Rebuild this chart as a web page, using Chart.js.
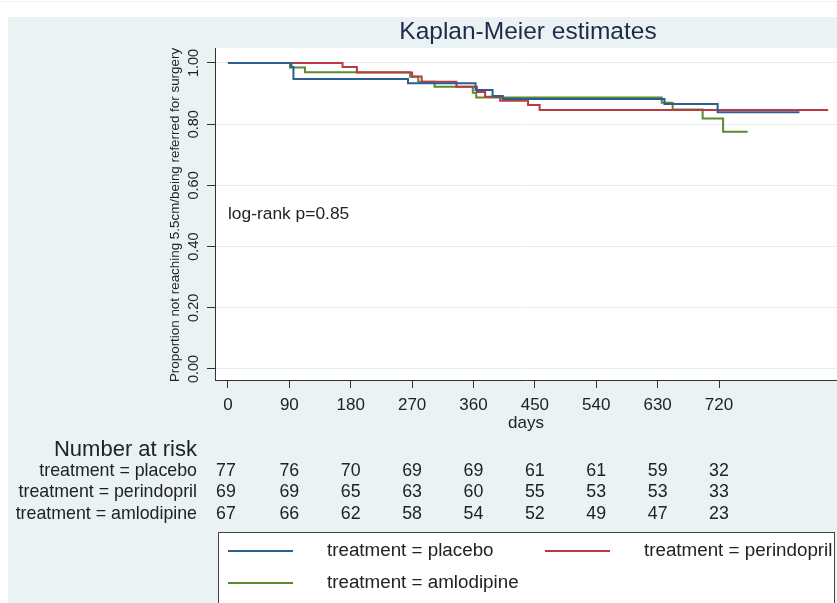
<!DOCTYPE html>
<html>
<head>
<meta charset="utf-8">
<script src="https://cdn.jsdelivr.net/npm/chart.js@4"></script>
<style>
  html, body { margin: 0; padding: 0; background: #fff; }
  canvas { display: block; }
</style>
</head>
<body>
<canvas id="km" width="837" height="603"></canvas>
<script>
// Kaplan-Meier step data (day, survival)
const placeboDays = [0, 93, 96, 264, 363, 388, 403, 640, 718, 838];
const placeboSurv = [1, 0.987, 0.948, 0.934, 0.912, 0.892, 0.882, 0.866, 0.839, 0.839];

const perindoprilDays = [0, 168, 189, 270, 284, 335, 365, 377, 399, 440, 457, 880];
const perindoprilSurv = [1, 0.987, 0.969, 0.956, 0.939, 0.922, 0.905, 0.890, 0.877, 0.863, 0.846, 0.846];

const amlodipineDays = [0, 91, 113, 267, 279, 303, 359, 364, 636, 652, 696, 726, 762];
const amlodipineSurv = [1, 0.985, 0.970, 0.955, 0.939, 0.922, 0.903, 0.887, 0.870, 0.848, 0.819, 0.775, 0.775];

const xTicks = [0, 90, 180, 270, 360, 450, 540, 630, 720];
const yTicks = [0, 0.2, 0.4, 0.6, 0.8, 1.0];

// number at risk, one value per x tick
const riskLabels = ['treatment = placebo', 'treatment = perindopril', 'treatment = amlodipine'];
const riskPlacebo = [77, 76, 70, 69, 69, 61, 61, 59, 32];
const riskPerindopril = [69, 69, 65, 63, 60, 55, 53, 53, 33];
const riskAmlodipine = [67, 66, 62, 58, 54, 52, 49, 47, 23];

const colors = ['#2b5e91', '#bb3a42', '#5b8b2f'];
const FONT = '"Liberation Sans", Arial, sans-serif';

function toPoints(days, surv) {
    return days.map((d, i) => ({ x: d, y: surv[i] }));
}

const decor = {
    id: 'decor',
    beforeDraw(chart) {
        const ctx = chart.ctx;
        const a = chart.chartArea;
        ctx.save();
        ctx.fillStyle = '#fff';
        ctx.fillRect(0, 0, chart.width, chart.height);
        ctx.fillStyle = '#f3f1e6';
        ctx.fillRect(0, 1, chart.width, 1);
        ctx.fillStyle = '#eaf2f3';
        ctx.fillRect(8, 17, chart.width - 8, chart.height - 17);
        ctx.fillStyle = '#fff';
        ctx.fillRect(a.left, a.top, a.right - a.left, a.bottom - a.top);
        ctx.restore();
    },
    afterDraw(chart) {
        const ctx = chart.ctx;
        const xs = chart.scales.x;
        const ys = chart.scales.y;
        const a = chart.chartArea;
        ctx.save();

        // title
        ctx.fillStyle = '#1c2b4a';
        ctx.font = '24.5px ' + FONT;
        ctx.textAlign = 'center';
        ctx.textBaseline = 'middle';
        ctx.fillText('Kaplan-Meier estimates', 528, 32);

        ctx.fillStyle = '#222';
        // y tick labels, rotated
        ctx.font = '14.5px ' + FONT;
        yTicks.forEach(v => {
            ctx.save();
            ctx.translate(194, ys.getPixelForValue(v));
            ctx.rotate(-Math.PI / 2);
            ctx.fillText(v.toFixed(2), 0, 0);
            ctx.restore();
        });

        // y title
        ctx.save();
        ctx.font = '13.4px ' + FONT;
        ctx.translate(175, 215);
        ctx.rotate(-Math.PI / 2);
        ctx.fillText('Proportion not reaching 5.5cm/being referred for surgery', 0, 0);
        ctx.restore();

        // x tick labels + title
        ctx.font = '17px ' + FONT;
        xTicks.forEach(v => {
            ctx.fillText(String(v), xs.getPixelForValue(v), 405);
        });
        ctx.fillText('days', (a.left + a.right) / 2, 423);

        // log-rank
        ctx.textAlign = 'left';
        ctx.font = '17.4px ' + FONT;
        ctx.fillText('log-rank p=0.85', xs.getPixelForValue(0), ys.getPixelForValue(0.505));

        // number at risk
        ctx.textAlign = 'right';
        ctx.font = '22px ' + FONT;
        ctx.fillText('Number at risk', 197, 450);
        ctx.font = '17.8px ' + FONT;
        const rows = [riskPlacebo, riskPerindopril, riskAmlodipine];
        rows.forEach((row, r) => {
            const y = 471 + r * 21.5;
            ctx.textAlign = 'right';
            ctx.fillText(riskLabels[r], 197, y);
            ctx.textAlign = 'center';
            row.forEach((n, i) => {
                ctx.fillText(String(n), xs.getPixelForValue(xTicks[i]) - (i === 0 ? 2 : 0), y);
            });
        });

        // legend box
        ctx.fillStyle = '#fff';
        ctx.fillRect(218, 532, 617, 80);
        ctx.strokeStyle = '#444';
        ctx.lineWidth = 1;
        ctx.strokeRect(218.5, 532.5, 616, 80);
        const items = [
            { c: colors[0], t: riskLabels[0], x: 228, y: 551 },
            { c: colors[1], t: riskLabels[1], x: 545, y: 551 },
            { c: colors[2], t: riskLabels[2], x: 228, y: 583 }
        ];
        ctx.font = '18.8px ' + FONT;
        ctx.textAlign = 'left';
        items.forEach(it => {
            ctx.strokeStyle = it.c;
            ctx.lineWidth = 2;
            ctx.beginPath();
            ctx.moveTo(it.x, it.y);
            ctx.lineTo(it.x + 65, it.y);
            ctx.stroke();
            ctx.fillStyle = '#222';
            ctx.fillText(it.t, it.x + 99, it.y);
        });

        ctx.restore();
    }
};

new Chart(document.getElementById('km').getContext('2d'), {
    type: 'line',
    data: {
        datasets: [
            { label: 'placebo', data: toPoints(placeboDays, placeboSurv), borderColor: colors[0] },
            { label: 'perindopril', data: toPoints(perindoprilDays, perindoprilSurv), borderColor: colors[1] },
            { label: 'amlodipine', data: toPoints(amlodipineDays, amlodipineSurv), borderColor: colors[2] }
        ]
    },
    options: {
        responsive: false,
        animation: false,
        layout: { padding: { top: 48, left: 0, right: 0, bottom: 0 } },
        elements: {
            line: { borderWidth: 2, stepped: true, tension: 0, fill: false },
            point: { radius: 0 }
        },
        plugins: {
            legend: { display: false },
            tooltip: { enabled: false }
        },
        scales: {
            x: {
                type: 'linear',
                min: -19,
                max: 893,
                afterBuildTicks: s => { s.ticks = xTicks.map(v => ({ value: v })); },
                afterFit: s => { s.height = 223; },
                ticks: { display: false },
                grid: { drawOnChartArea: false, drawTicks: true, tickLength: 8, tickColor: '#333' },
                border: { display: true, color: '#333', width: 1 }
            },
            y: {
                type: 'linear',
                min: -0.036,
                max: 1.049,
                afterBuildTicks: s => { s.ticks = yTicks.map(v => ({ value: v })); },
                afterFit: s => { s.width = 215; },
                ticks: { display: false },
                grid: { color: '#e6eef1', lineWidth: 1, drawTicks: true, tickLength: 8, tickColor: '#333' },
                border: { display: true, color: '#333', width: 1 }
            }
        }
    },
    plugins: [decor]
});
</script>
</body>
</html>
